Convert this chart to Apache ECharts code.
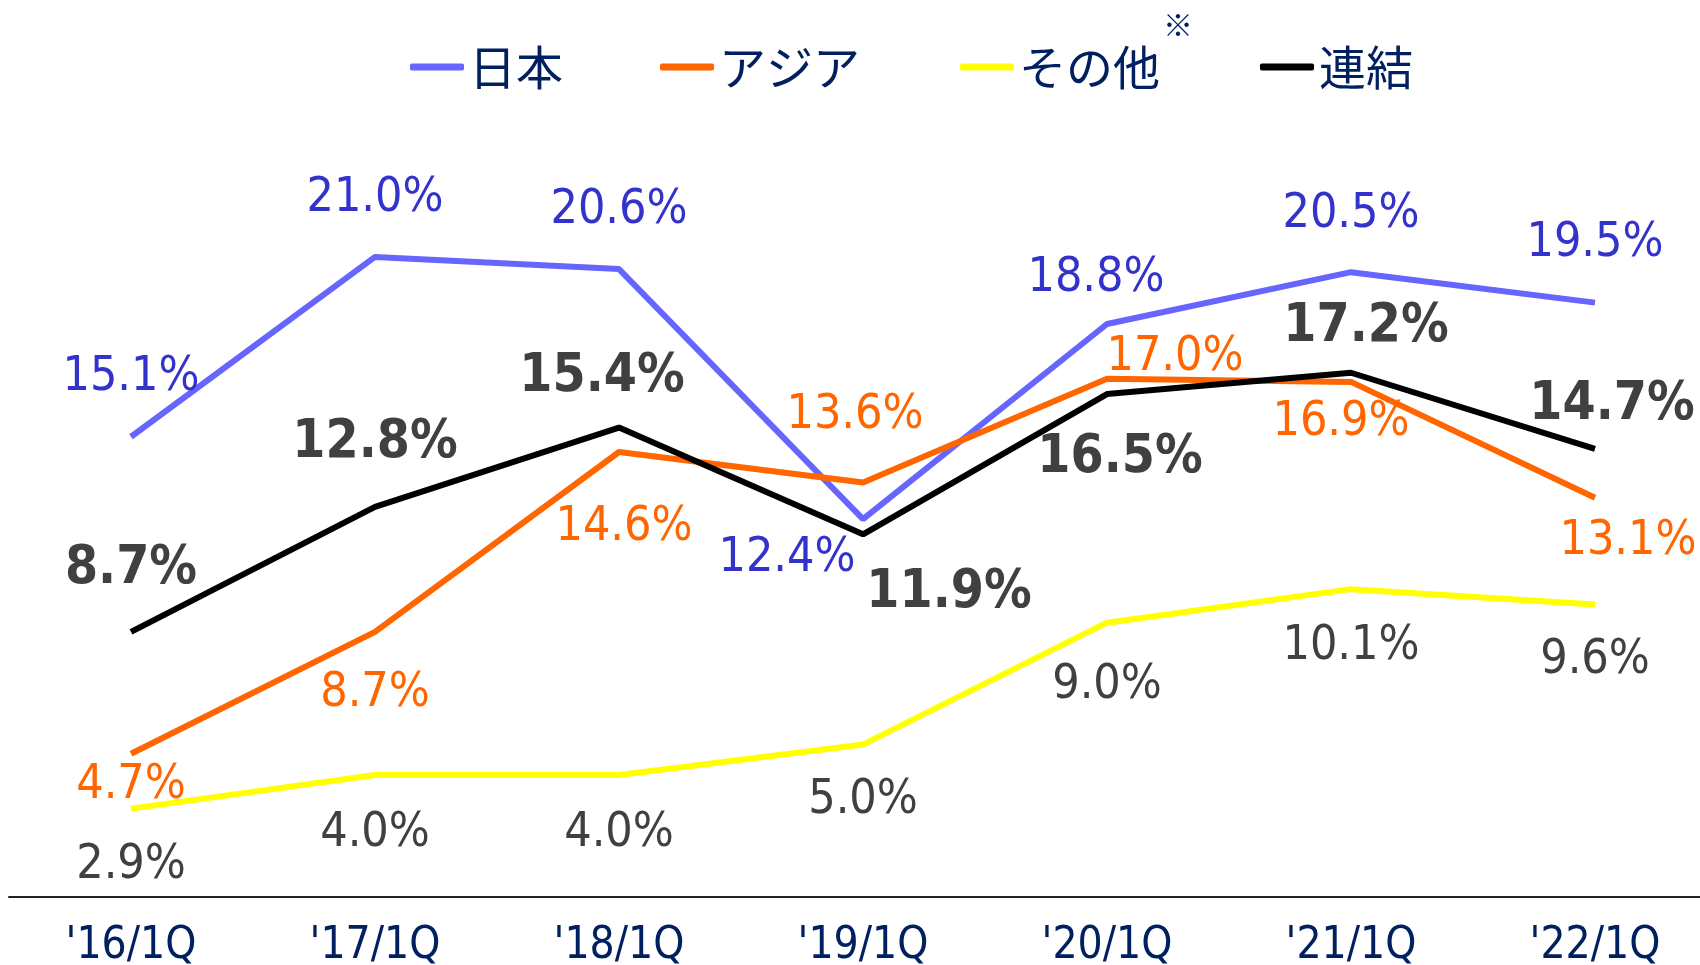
<!DOCTYPE html>
<html>
<head>
<meta charset="utf-8">
<script src="https://cdn.jsdelivr.net/npm/echarts@6/dist/echarts.min.js"></script>
<style>
  html, body { margin: 0; padding: 0; background: #fff; }
  #main { width: 1700px; height: 965px; }
</style>
</head>
<body>
<div id="main"></div>
<script>
// categories
var quarters = ["'16/1Q", "'17/1Q", "'18/1Q", "'19/1Q", "'20/1Q", "'21/1Q", "'22/1Q"];

// series values (%)
var japan = [15.1, 21.0, 20.6, 12.4, 18.8, 20.5, 19.5];
var asia = [4.7, 8.7, 14.6, 13.6, 17.0, 16.9, 13.1];
var others = [2.9, 4.0, 4.0, 5.0, 9.0, 10.1, 9.6];
var consolidated = [8.7, 12.8, 15.4, 11.9, 16.5, 17.2, 14.7];

// label offsets [dx, dy] from each point
var japanOff = [[0, -59], [0, -58], [0, -59], [-76, 39], [-11, -45], [0, -58], [0, -59]];
var asiaOff = [[0, 32], [0, 62], [5, 76], [-8, -67], [68, -21], [-10, 41], [33, 44]];
var othersOff = [[0, 57], [0, 58], [0, 58], [0, 56], [0, 63], [0, 57], [0, 56]];
var consOff = [[0, -63], [0, -64], [-17, -50], [86, 59], [13, 64], [15, -46], [17, -44]];

var numFont = "'DejaVu Sans Condensed', 'DejaVu Sans', sans-serif";
var jpFont = "'Noto Sans CJK JP', sans-serif";

function points(values, offs) {
    var out = [];
    for (let i = 0; i < values.length; i++) {
        out.push({ value: values[i], label: { offset: offs[i] } });
    }
    return out;
}

function lineSeries(name, values, offs, color, labelColor, bold) {
    return {
        name: name,
        type: "line",
        data: points(values, offs),
        symbol: "circle",
        symbolSize: 0.1,
        lineStyle: { color: color, width: 6 },
        itemStyle: { color: color },
        label: {
            show: true,
            position: "inside",
            formatter: function (p) { return p.value.toFixed(1) + "%"; },
            color: labelColor,
            fontFamily: numFont,
            fontSize: bold ? 53 : 48,
            fontWeight: bold ? "bold" : "normal",
        },
        emphasis: { disabled: true },
        animation: false,
    };
}

function legendAt(name, x) {
    return {
        data: [name],
        left: x,
        top: 40,
        padding: 0,
        icon: "roundRect",
        itemWidth: 54,
        itemHeight: 7,
        selectedMode: false,
        textStyle: {
            color: "#002060",
            fontFamily: jpFont,
            fontSize: 47,
            lineHeight: 54,
            padding: [0, 0, 0, 0],
        },
    };
}

var chartDom = document.getElementById("main");
var myChart = echarts.init(chartDom);

var option = {
    backgroundColor: "#ffffff",
    legend: [
        legendAt("日本", 410),
        legendAt("アジア", 660),
        legendAt("その他", 960),
        legendAt("連結", 1260),
    ],
    graphic: [
        {
            type: "text",
            left: 1163,
            top: 10,
            style: { text: "※", fill: "#002060", font: "30px 'Noto Sans CJK JP'" },
        },
    ],
    // grid slightly wider than the page, so the last category sits near the edge
    grid: { left: 9, width: 1708, top: 135, bottom: 68, outerBoundsMode: "none", containLabel: false },
    xAxis: {
        type: "category",
        data: quarters,
        boundaryGap: true,
        axisLine: { show: true, lineStyle: { color: "#222222", width: 2 } },
        axisTick: { show: false },
        axisLabel: {
            color: "#002060",
            fontFamily: numFont,
            fontSize: 44,
            margin: 28,
        },
    },
    yAxis: {
        type: "value",
        min: 0,
        max: 25,
        show: false,
        splitLine: { show: false },
    },
    series: [
        lineSeries("日本", japan, japanOff, "#6666FF", "#3333CC", false),
        lineSeries("アジア", asia, asiaOff, "#FF6600", "#FF6600", false),
        lineSeries("その他", others, othersOff, "#FFFF00", "#404040", false),
        lineSeries("連結", consolidated, consOff, "#000000", "#404040", true),
    ],
};

option && myChart.setOption(option);
</script>
</body>
</html>
